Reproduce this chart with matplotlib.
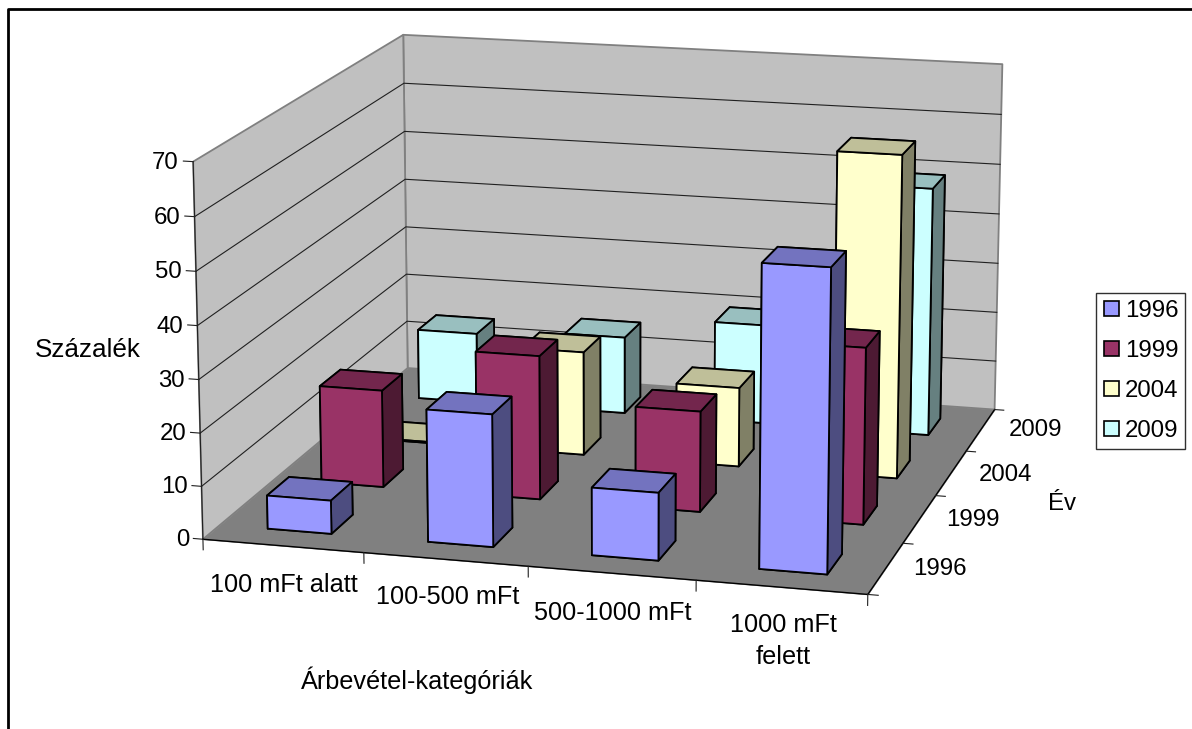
import numpy as np
import matplotlib
matplotlib.use('Agg')
import matplotlib.pyplot as plt
from matplotlib.legend_handler import HandlerPatch
from matplotlib.lines import Line2D
from matplotlib.patches import Patch
from mpl_toolkits.mplot3d.art3d import Poly3DCollection

plt.rcParams['font.family'] = ['Liberation Sans', 'DejaVu Sans']
plt.rcParams['font.size'] = 17.3

W, H = 1192, 729

# Data
categories = ['100 mFt alatt', '100-500 mFt', '500-1000 mFt', '1000 mFt\nfelett']
years = ['1996', '1999', '2004', '2009']
values_1996 = [6.3, 24.8, 12.6, 55.7]
values_1999 = [18.8, 27.6, 19.2, 33.4]
values_2004 = [0.2, 20.4, 15.5, 62.5]
values_2009 = [14.2, 15.5, 19.9, 49.3]
z_ticks = [0, 10, 20, 30, 40, 50, 60, 70]

series = [values_1996, values_1999, values_2004, values_2009]
front_colors = ['#9999FF', '#993366', '#FFFFCC', '#CCFFFF']
top_colors = ['#7373BF', '#73264D', '#BFBF99', '#99BFBF']
side_colors = ['#4D4D80', '#4D1A33', '#808066', '#668080']

n_x, n_y, z_max = len(categories), len(years), z_ticks[-1]

# Camera calibration: plot box point -> picture pixel
anchors = [
    (0, 0, 0, 202.3, 539.0), (4, 0, 0, 868.3, 594.3),
    (4, 4, 0, 995.0, 408.3), (0, 4, 0, 407.7, 368.3),
    (0, 0, 70, 193.3, 161.0), (0, 4, 70, 403.3, 34.7),
    (4, 4, 70, 1002.3, 64.3), (1, 0, 0, 364.3, 552.4),
    (2, 0, 0, 528.0, 566.0), (3, 0, 0, 695.7, 580.0),
    (4, 1, 0, 903.3, 543.3), (4, 2, 0, 935.0, 496.3), (4, 3, 0, 965.7, 452.0),
    (0, 0, 60, 194.3, 217.3), (0, 0, 50, 196.0, 271.3), (0, 0, 10, 202.0, 486.7),
]


def fit_camera(points):
    rows = []
    for x, y, z, u, v in points:
        rows.append([x, y, z, 1, 0, 0, 0, 0, -u * x, -u * y, -u * z, -u])
        rows.append([0, 0, 0, 0, x, y, z, 1, -v * x, -v * y, -v * z, -v])
    cam = np.linalg.svd(np.array(rows))[2][-1].reshape(3, 4)
    return cam / (cam[2] @ [2, 2, 35, 1])


P = fit_camera(anchors)


def to_pixel(x, y, z):
    u, v, w = P @ [x, y, z, 1]
    return u / w, v / w


fig = plt.figure(figsize=(W / 100, H / 100), dpi=100)
fig.patch.set_facecolor('white')
ax = fig.add_axes([0, (H - W) / 2 / H, 1, W / H], projection='3d', computed_zorder=False)
ax.set_axis_off()
ax.patch.set_facecolor('none')


def picture_proj():
    # pixel -> display -> 2D data of the 3d axes
    flip = np.array([[1, 0, 0], [0, -1, H], [0, 0, 1.0]])
    cam = ax.transData.inverted().get_matrix() @ flip @ P
    # depth must stay negative, mplot3d drops line points behind the camera
    depth = [0, 0, 0, -0.5]
    return np.vstack([cam[0], cam[1], depth, cam[2]])


ax.get_proj = picture_proj

# Walls and floor
left_wall = [(0, 0, 0), (0, 4, 0), (0, 4, z_max), (0, 0, z_max)]
back_wall = [(0, 4, 0), (4, 4, 0), (4, 4, z_max), (0, 4, z_max)]
floor = [(0, 0, 0), (4, 0, 0), (4, 4, 0), (0, 4, 0)]
ax.add_collection3d(Poly3DCollection([left_wall, back_wall], facecolor='#C0C0C0',
                                     edgecolor='#808080', linewidth=1.3, zorder=0.5))
ax.add_collection3d(Poly3DCollection([floor], facecolor='#808080', edgecolor='#808080',
                                     linewidth=0.5, zorder=0.6))

line_style = dict(color='#202020', linewidth=0.8, zorder=5)
for z in z_ticks[1:-1]:
    ax.plot([0, 0, 4], [0, 4, 4], [z, z, z], **line_style)
ax.plot([0, 0], [0, 0], [0, z_max], **line_style)
ax.plot([0, 4, 4], [0, 0, 4], [0, 0, 0], color='black', linewidth=1.0, zorder=5)

# Tick marks
for z in z_ticks:
    ax.plot([-0.06, 0], [0, 0], [z, z], **line_style)
for x in range(n_x + 1):
    ax.plot([x, x], [0, 0], [0, -2], **line_style)
for y in range(n_y + 1):
    ax.plot([4, 4.06], [y, y], [0, 0], **line_style)

# Bars, back row first
bar_lo, bar_size = 0.3, 0.4
for j in reversed(range(n_y)):
    for i in range(n_x):
        faces = [side_colors[j], top_colors[j], front_colors[j],
                 side_colors[j], side_colors[j], side_colors[j]]
        ax.bar3d(i + bar_lo, j + bar_lo, 0, bar_size, bar_size, series[j][i],
                 color=faces, edgecolor='black', linewidth=1.3, shade=False,
                 zorder=10 + (n_y - j) * 10 + i)

ax.set_xlim(0, 4)
ax.set_ylim(0, 4)
ax.set_zlim(0, z_max)


def label(px, py, text, ha='center', **kw):
    fig.text(px / W, 1 - py / H, text, ha=ha, va='center', **kw)


for z in z_ticks:
    px, py = to_pixel(-0.087, 0, z)
    label(px, py + 2, str(z), ha='right')
for px, py, text in zip([284, 448, 613, 783], [585, 597, 613, 641], categories):
    label(px, py, text, linespacing=1.37, fontsize=18.2)
for px, py, text in zip([940, 973.3, 1006, 1035], [569, 520, 474.7, 430], years):
    label(px, py, text)
label(417, 680, 'Árbevétel-kategóriák', fontsize=18.2)
label(88, 350, 'Százalék', fontsize=18.8)
label(1062, 504, 'Év')

# Legend
handles = [Patch(facecolor=c, edgecolor='black', linewidth=1.2) for c in front_colors]
fig.legend(handles, years, loc='upper left', bbox_to_anchor=(1095.7 / W, 1 - 293.3 / H),
           borderaxespad=0, frameon=True, fancybox=False, framealpha=1, edgecolor='#303030',
           handlelength=0.68, handleheight=0.6, handletextpad=0.26, labelspacing=0.75,
           borderpad=0.28, handler_map={Patch: HandlerPatch(xpad=0.07)})

# Chart frame, open at the right and the bottom of the picture
frame = Line2D([1192 / W, 8 / W, 8 / W], [1 - 9 / H, 1 - 9 / H, 0], color='black',
               linewidth=2.0, transform=fig.transFigure)
fig.add_artist(frame)

fig.savefig('out.png', dpi=100)
